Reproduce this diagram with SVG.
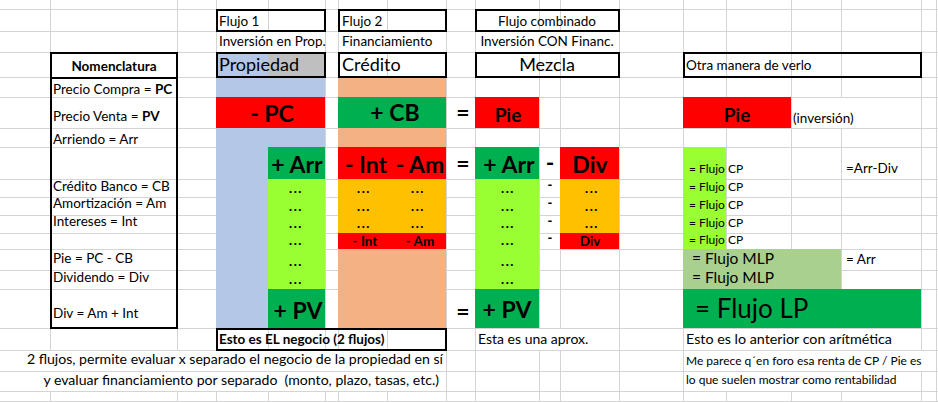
<svg xmlns="http://www.w3.org/2000/svg" width="938" height="402" viewBox="0 0 938 402">
<style>
.t{font-family:Lato,"Open Sans","Liberation Sans",sans-serif;font-size:13.5px;fill:#000}
.b{font-weight:bold}
.c{text-anchor:middle}
.r{text-anchor:end}
.big{font-size:23px;font-weight:bold}
.med{font-size:18px}
.pie{font-size:19px;font-weight:bold;text-anchor:middle}
.dots{font-size:13px;font-weight:900;text-anchor:middle;letter-spacing:1.5px}
.dash{font-size:13px;font-weight:900;text-anchor:middle}
.sm{font-size:12px}
.note{font-size:14.1px}
.mlp{font-size:15.5px}
.lp{font-size:26px}
.box{fill:none;stroke:#000;stroke-width:2}
.grid{stroke:#d4d4d4;stroke-width:1;fill:none}
</style>
<rect x="0" y="0" width="938" height="402" fill="#fff"/>
<g id="grid">
<path class="grid" d="M50.5 0V402M177.5 0V402M216.5 0V402M268.5 0V402M325.5 0V402M338.5 0V402M387.5 0V402M446.5 0V402M475.5 0V402M539.5 0V402M560.5 0V402M619.5 0V402M683.5 0V402M726.5 0V402M791.5 0V402M841.5 0V402M921.5 0V402M936.5 0V402"/>
<path class="grid" d="M0 9.5H938M0 31.5H938M0 52.5H938M0 77.5H938M0 97.5H938M0 128.5H938M0 147.5H938M0 179.5H938M0 197.5H938M0 215.5H938M0 233.5H938M0 249.5H938M0 270.5H938M0 289.5H938M0 328.5H938M0 350.5H938M0 371.5H938M0 391.5H938M0 401.5H938"/>
<g fill="#fff">
<rect x="217" y="32" width="108" height="20"/>
<rect x="339" y="32" width="107" height="20"/>
<rect x="476" y="32" width="143" height="20"/>
<rect x="792" y="98" width="71" height="30"/>
<rect x="476" y="329" width="143" height="21"/>
<rect x="684" y="329" width="237" height="21"/>
<rect x="0" y="351" width="446" height="20"/>
<rect x="0" y="372" width="446" height="19"/>
<rect x="684" y="351" width="252" height="20"/>
<rect x="684" y="372" width="237" height="19"/>
</g>
</g>
<g id="nomenclatura">
<rect class="box" x="51" y="53" width="126" height="25" fill="#fff"/>
<rect class="box" x="51" y="78" width="126" height="250"/>
<text class="t b c" x="114" y="71">Nomenclatura</text>
<text class="t" x="53" y="94">Precio Compra = <tspan class="b">PC</tspan></text>
<text class="t" x="53" y="121">Precio Venta = <tspan class="b">PV</tspan></text>
<text class="t" x="53" y="144">Arriendo = Arr</text>
<text class="t" x="53" y="191">Crédito Banco = CB</text>
<text class="t" x="53" y="208">Amortización = Am</text>
<text class="t" x="53" y="226">Intereses = Int</text>
<text class="t" x="53" y="263">Pie = PC - CB</text>
<text class="t" x="53" y="282">Dividendo = Div</text>
<text class="t" x="53" y="318">Div = Am + Int</text>
</g>
<g id="flujo1">
<rect x="216" y="77" width="52" height="251" fill="#b4c7e7"/>
<rect x="268" y="77" width="57" height="70" fill="#b4c7e7"/>
<rect x="216" y="97" width="109" height="31" fill="#ff0000"/>
<rect x="268" y="147" width="57" height="32" fill="#00b050"/>
<rect x="268" y="179" width="57" height="110" fill="#99ff33"/>
<rect x="268" y="289" width="57" height="39" fill="#00b050"/>
<rect class="box" x="217" y="10" width="108" height="21" fill="#dae3f3"/>
<text class="t" x="219" y="26">Flujo 1</text>
<text class="t" x="219" y="46">Inversión en Prop.</text>
<rect x="217" y="53" width="51" height="24" fill="#b4c7e7"/>
<rect x="268" y="53" width="57" height="24" fill="#bfbfbf"/>
<rect class="box" x="217" y="53" width="108" height="24"/>
<text class="t med" x="219" y="71">Propiedad</text>
<text class="t big c" x="272" y="122">- PC</text>
<text class="t big c" x="297" y="173">+ Arr</text>
<text class="t dots" x="296" y="193">...</text>
<text class="t dots" x="296" y="211">...</text>
<text class="t dots" x="296" y="228">...</text>
<text class="t dots" x="296" y="245">...</text>
<text class="t dots" x="296" y="266">...</text>
<text class="t dots" x="296" y="284">...</text>
<text class="t big c" x="298" y="319">+ PV</text>
</g>
<g id="flujo2">
<rect x="338" y="77" width="108" height="251" fill="#f4b183"/>
<rect x="338" y="97" width="108" height="31" fill="#00b050"/>
<rect x="338" y="147" width="108" height="32" fill="#ff0000"/>
<rect x="338" y="179" width="108" height="54" fill="#ffc000"/>
<rect x="338" y="233" width="108" height="16" fill="#ff0000"/>
<rect class="box" x="339" y="10" width="107" height="21" fill="#f8cbad"/>
<text class="t" x="342" y="26">Flujo 2</text>
<text class="t" x="342" y="46">Financiamiento</text>
<rect class="box" x="339" y="53" width="107" height="24" fill="#f4b183"/>
<text class="t med" x="342" y="71">Crédito</text>
<text class="t big c" x="395" y="121">+ CB</text>
<text class="t big c" x="366" y="173">- Int</text>
<text class="t big c" x="420" y="173">- Am</text>
<text class="t dots" x="364" y="193">...</text>
<text class="t dots" x="418" y="193">...</text>
<text class="t dots" x="364" y="211">...</text>
<text class="t dots" x="418" y="211">...</text>
<text class="t dots" x="364" y="228">...</text>
<text class="t dots" x="418" y="228">...</text>
<text class="t b c" x="365" y="246">- Int</text>
<text class="t b c" x="420" y="246">- Am</text>
</g>
<g id="signos">
<text class="t big c" x="463" y="121">=</text>
<text class="t big c" x="463" y="172">=</text>
<text class="t big c" x="463" y="320">=</text>
<text class="t big c" x="550" y="171">-</text>
<text class="t dash" x="550" y="189">-</text>
<text class="t dash" x="550" y="207">-</text>
<text class="t dash" x="550" y="225">-</text>
<text class="t dash" x="550" y="242">-</text>
</g>
<g id="combinado">
<rect x="475" y="97" width="64" height="31" fill="#ff0000"/>
<rect x="475" y="147" width="64" height="32" fill="#00b050"/>
<rect x="475" y="179" width="64" height="110" fill="#99ff33"/>
<rect x="475" y="289" width="64" height="39" fill="#00b050"/>
<rect x="560" y="147" width="59" height="32" fill="#ff0000"/>
<rect x="560" y="179" width="59" height="54" fill="#ffc000"/>
<rect x="560" y="233" width="59" height="16" fill="#ff0000"/>
<rect class="box" x="476" y="10" width="143" height="21" fill="#fff"/>
<text class="t c" x="547" y="26">Flujo combinado</text>
<text class="t c" x="547" y="46">Inversión CON Financ.</text>
<rect class="box" x="476" y="53" width="143" height="24" fill="#fff"/>
<text class="t med c" x="547" y="71">Mezcla</text>
<text class="t pie" x="508" y="122">Pie</text>
<text class="t big c" x="509" y="173">+ Arr</text>
<text class="t big c" x="590" y="173">Div</text>
<text class="t dots" x="508" y="193">...</text>
<text class="t dots" x="508" y="211">...</text>
<text class="t dots" x="508" y="228">...</text>
<text class="t dots" x="508" y="245">...</text>
<text class="t dots" x="508" y="266">...</text>
<text class="t dots" x="508" y="284">...</text>
<text class="t dots" x="592" y="193">...</text>
<text class="t dots" x="592" y="211">...</text>
<text class="t dots" x="592" y="228">...</text>
<text class="t b c" x="590" y="246">Div</text>
<text class="t big c" x="507" y="318">+ PV</text>
</g>
<g id="otra-manera">
<rect class="box" x="684" y="53" width="237" height="24" fill="#fff"/>
<text class="t" x="686" y="70">Otra manera de verlo</text>
<rect x="683" y="97" width="108" height="31" fill="#ff0000"/>
<text class="t pie" x="737" y="122">Pie</text>
<text class="t" x="793" y="123">(inversión)</text>
<rect x="683" y="147" width="43" height="102" fill="#99ff33"/>
<g class="t sm">
<text x="689" y="173">= Flujo</text><text x="728" y="173">CP</text>
<text x="689" y="191">= Flujo</text><text x="728" y="191">CP</text>
<text x="689" y="209">= Flujo</text><text x="728" y="209">CP</text>
<text x="689" y="227">= Flujo</text><text x="728" y="227">CP</text>
<text x="689" y="244">= Flujo</text><text x="728" y="244">CP</text>
</g>
<text class="t" x="846" y="173">=Arr-Div</text>
<rect x="683" y="249" width="158" height="40" fill="#a9d08e"/>
<text class="t mlp" x="692" y="264">= Flujo MLP</text>
<text class="t mlp" x="692" y="283">= Flujo MLP</text>
<text class="t" x="846" y="264">= Arr</text>
<rect x="683" y="289" width="238" height="39" fill="#00b050"/>
<text class="t lp" x="695" y="318">= Flujo LP</text>
</g>
<g id="notas">
<rect class="box" x="217" y="329" width="229" height="21" fill="#fff"/>
<text class="t b" x="219" y="344">Esto es EL negocio (2 flujos)</text>
<text class="t" x="478" y="344" style="font-size:14px">Esta es una aprox.</text>
<text class="t" x="686" y="344" style="font-size:14.3px">Esto es lo anterior con arítmética</text>
<text class="t r note" x="443" y="364">2 flujos, permite evaluar x separado el negocio de la propiedad en sí</text>
<text class="t r note" x="439" y="385" xml:space="preserve">y evaluar financiamiento por separado  (monto, plazo, tasas, etc.)</text>
<text class="t sm" x="686" y="365">Me parece q´en foro esa renta de CP / Pie es</text>
<text class="t sm" x="686" y="384">lo que suelen mostrar como rentabilidad</text>
</g>
</svg>
